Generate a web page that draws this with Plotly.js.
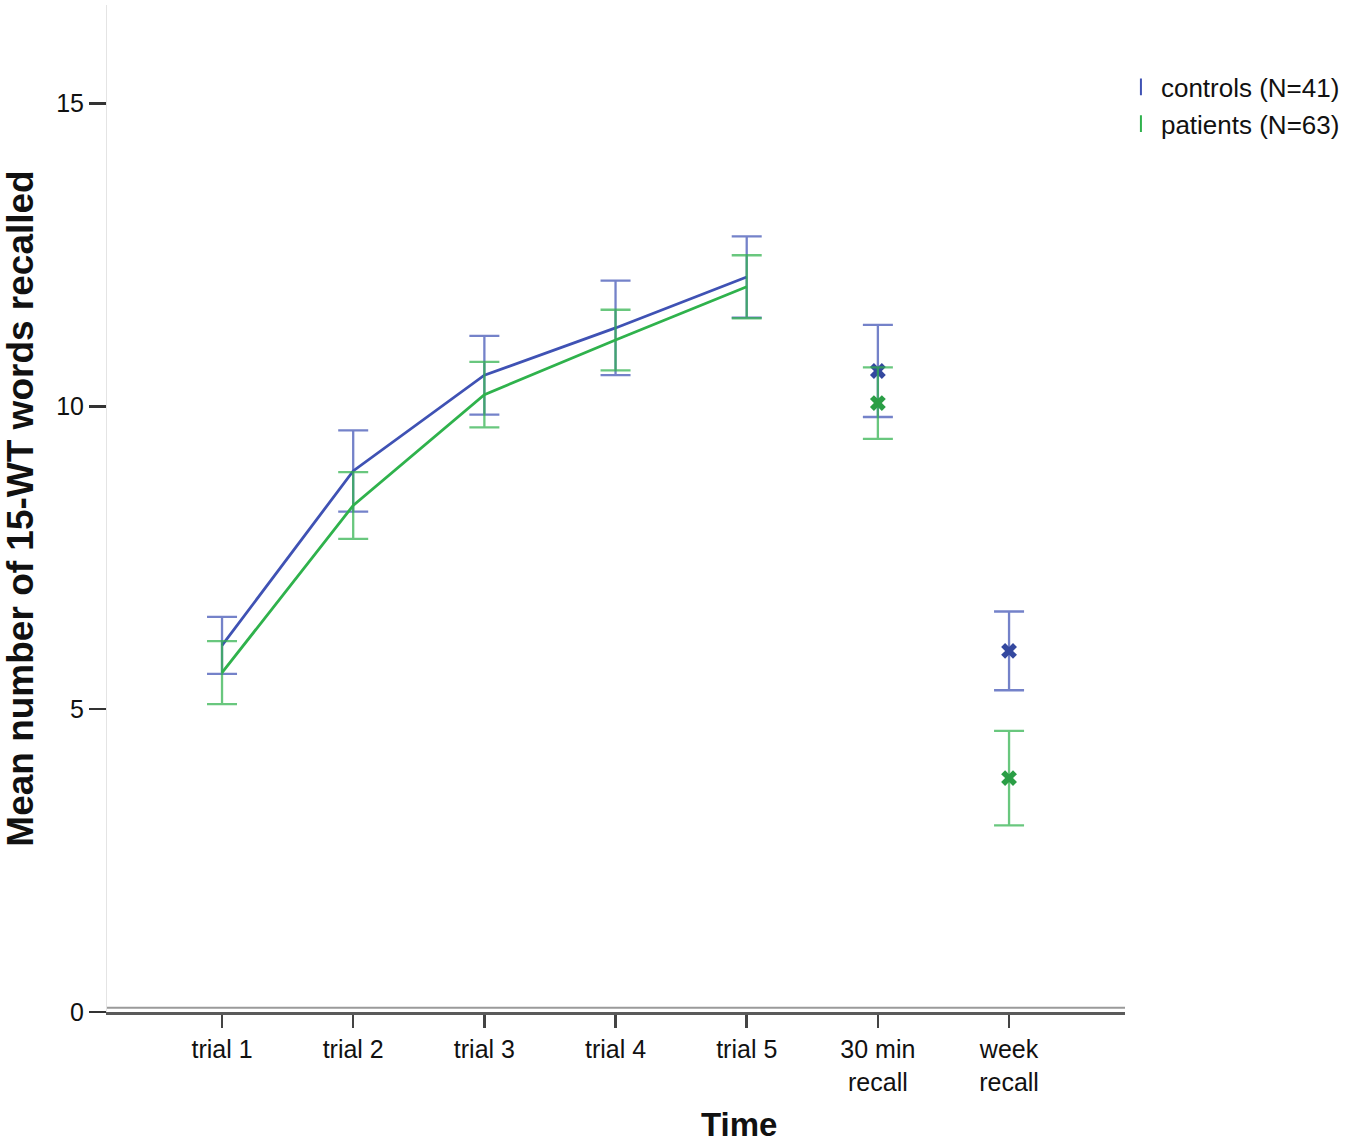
<!DOCTYPE html>
<html>
<head>
<meta charset="utf-8">
<script src="https://cdn.plot.ly/plotly-3.0.1.min.js"></script>
<style>html,body{margin:0;padding:0;background:#fff;}#chart{width:1350px;height:1142px;}</style>
</head>
<body>
<div id="chart"></div>
<script>
// ---- data ----
var categories = ['trial 1', 'trial 2', 'trial 3', 'trial 4', 'trial 5', '30 min<br>recall', 'week<br>recall'];
var tickPositions = [0, 1, 2, 3, 4, 5, 6];
var controlsMean = [6.05, 8.93, 10.51, 11.29, 12.13, 10.58, 5.96];
var controlsErr  = [0.47, 0.67, 0.65, 0.78, 0.67, 0.76, 0.65];
var patientsMean = [5.60, 8.36, 10.19, 11.09, 11.97, 10.05, 3.86];
var patientsErr  = [0.52, 0.55, 0.54, 0.50, 0.52, 0.59, 0.78];
var seriesNames = ['controls (N=41)', 'patients (N=63)'];
var yTicks = [0, 5, 10, 15];

var blue = '#3f52b4', green = '#2fb24c';
var blueErr = 'rgba(63,82,180,0.72)', greenErr = 'rgba(47,178,76,0.72)';
var FONT = 'Liberation Sans, Arial, sans-serif';

var trialIdx = tickPositions.slice(0, 5);
var recallIdx = tickPositions.slice(5);

function sub(arr, idx) { return idx.map(function (i) { return arr[i]; }); }

function lineTrace(mean, err, col, ecol) {
  return {
    x: trialIdx, y: sub(mean, trialIdx), type: 'scatter', mode: 'lines',
    line: {color: col, width: 2.8}, showlegend: false, hoverinfo: 'skip',
    error_y: {type: 'data', array: sub(err, trialIdx), visible: true, color: ecol, thickness: 2.3, width: 15}
  };
}
function recallTrace(mean, err, col, ecol) {
  return {
    x: recallIdx, y: sub(mean, recallIdx), type: 'scatter', mode: 'markers',
    marker: {symbol: 'x', size: 14, color: col, line: {width: 0}},
    showlegend: false, hoverinfo: 'skip',
    error_y: {type: 'data', array: sub(err, recallIdx), visible: true, color: ecol, thickness: 2.3, width: 15}
  };
}
function legendTrace(name, col) {
  return {
    x: [null], y: [null], type: 'scatter', mode: 'markers', name: name,
    marker: {symbol: 'line-ns-open', size: 16, color: col, line: {color: col, width: 2.5}},
    showlegend: true
  };
}

var data = [
  lineTrace(controlsMean, controlsErr, blue, blueErr),
  lineTrace(patientsMean, patientsErr, green, greenErr),
  recallTrace(controlsMean, controlsErr, '#34489f', blueErr),
  recallTrace(patientsMean, patientsErr, '#2a9e45', greenErr),
  legendTrace(seriesNames[0], blue),
  legendTrace(seriesNames[1], green)
];

var layout = {
  width: 1350, height: 1142,
  margin: {l: 107, r: 225, t: 5, b: 130},
  paper_bgcolor: '#fff', plot_bgcolor: '#fff',
  font: {family: FONT, size: 25, color: '#111'},
  xaxis: {
    range: [-0.877, 6.884], tickmode: 'array', tickvals: tickPositions, ticktext: categories,
    showgrid: false, zeroline: false, showline: true, linecolor: '#5a5a5a', linewidth: 3,
    ticks: 'outside', ticklen: 13, tickwidth: 2.5, tickcolor: '#444',
    tickfont: {family: FONT, size: 25, color: '#111'}, fixedrange: true
  },
  yaxis: {
    range: [0, 16.62], tickmode: 'array', tickvals: yTicks, ticktext: yTicks.map(String),
    showgrid: false, zeroline: false, showline: true, linecolor: '#e4e4e4', linewidth: 1,
    ticks: 'outside', ticklen: 17, tickwidth: 2.8, tickcolor: '#333',
    tickfont: {family: FONT, size: 25, color: '#111'},
    title: {text: 'Mean number of 15-WT words recalled', font: {family: FONT, size: 37, color: '#111', weight: 'bold'}, standoff: 24},
    fixedrange: true
  },
  shapes: [
    {type: 'line', xref: 'paper', yref: 'paper', x0: 0, x1: 1, y0: 0.0042, y1: 0.0042,
     line: {color: '#9a9a9a', width: 2}}
  ],
  annotations: [
    {text: '<b>Time</b>', xref: 'paper', yref: 'paper', x: 0.621, y: -0.1117,
     xanchor: 'center', yanchor: 'middle', showarrow: false,
     font: {family: FONT, size: 33, color: '#111'}}
  ],
  legend: {
    x: 0.996, y: 0.942, xanchor: 'left', yanchor: 'top',
    font: {family: FONT, size: 26, color: '#111'}, bgcolor: 'rgba(0,0,0,0)',
    tracegroupgap: 0, itemsizing: 'constant'
  },
  showlegend: true
};

Plotly.newPlot('chart', data, layout, {displayModeBar: false, staticPlot: true});
</script>
</body>
</html>
